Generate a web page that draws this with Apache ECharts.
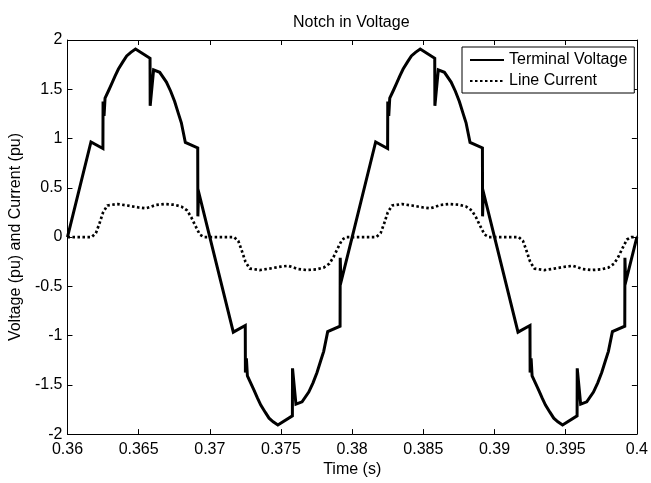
<!DOCTYPE html>
<html>
<head>
<meta charset="utf-8">
<script src="https://cdn.jsdelivr.net/npm/echarts@6.0.0/dist/echarts.min.js"></script>
<style>
html, body { margin: 0; padding: 0; background: #fff; }
#chart { width: 651px; height: 483px; }
</style>
</head>
<body>
<div id="chart"></div>
<script>
// terminal voltage (pu)
var voltageT = [
  0.36000, 0.36165, 0.36249, 0.36250, 0.36257, 0.36264, 0.36290, 0.36311, 0.36335, 0.36358, 0.36390, 0.36416, 0.36445,
  0.36478, 0.36580, 0.36581, 0.36605, 0.36648, 0.36695, 0.36725, 0.36753, 0.36780, 0.36800, 0.36828,
  0.36915, 0.36916, 0.36921, 0.37000,
  0.37165, 0.37249, 0.37250, 0.37257, 0.37264, 0.37290, 0.37311, 0.37335, 0.37358, 0.37390, 0.37416, 0.37445,
  0.37478, 0.37580, 0.37581, 0.37605, 0.37648, 0.37695, 0.37725, 0.37753, 0.37780, 0.37800, 0.37828,
  0.37915, 0.37916, 0.37921, 0.38000,
  0.38165, 0.38249, 0.38250, 0.38257, 0.38264, 0.38290, 0.38311, 0.38335, 0.38358, 0.38390, 0.38416, 0.38445,
  0.38478, 0.38580, 0.38581, 0.38605, 0.38648, 0.38695, 0.38725, 0.38753, 0.38780, 0.38800, 0.38828,
  0.38915, 0.38916, 0.38921, 0.39000,
  0.39165, 0.39249, 0.39250, 0.39257, 0.39264, 0.39290, 0.39311, 0.39335, 0.39358, 0.39390, 0.39416, 0.39445,
  0.39478, 0.39580, 0.39581, 0.39605, 0.39648, 0.39695, 0.39725, 0.39753, 0.39780, 0.39800, 0.39828,
  0.39915, 0.39916, 0.39921, 0.40000
];
var voltageV = [
  0, 0.965, 0.898, 1.375, 1.23, 1.41, 1.49, 1.556, 1.635, 1.705, 1.78, 1.838, 1.875,
  1.908, 1.815, 1.332, 1.696, 1.672, 1.573, 1.48, 1.375, 1.25, 1.16, 0.96,
  0.905, 0.21, 0.46, 0,
  -0.965, -0.898, -1.375, -1.23, -1.41, -1.49, -1.556, -1.635, -1.705, -1.78, -1.838, -1.875,
  -1.908, -1.815, -1.332, -1.696, -1.672, -1.573, -1.48, -1.375, -1.25, -1.16, -0.96,
  -0.905, -0.21, -0.46, 0,
  0.965, 0.898, 1.375, 1.23, 1.41, 1.49, 1.556, 1.635, 1.705, 1.78, 1.838, 1.875,
  1.908, 1.815, 1.332, 1.696, 1.672, 1.573, 1.48, 1.375, 1.25, 1.16, 0.96,
  0.905, 0.21, 0.46, 0,
  -0.965, -0.898, -1.375, -1.23, -1.41, -1.49, -1.556, -1.635, -1.705, -1.78, -1.838, -1.875,
  -1.908, -1.815, -1.332, -1.696, -1.672, -1.573, -1.48, -1.375, -1.25, -1.16, -0.96,
  -0.905, -0.21, -0.46, 0
];

// line current (pu)
var currentT = [
  0.36000, 0.36170, 0.36200, 0.36225, 0.36250, 0.36280, 0.36350, 0.36420, 0.36500, 0.36550,
  0.36580, 0.36620, 0.36680, 0.36750, 0.36800, 0.36840, 0.36870, 0.36900, 0.36930, 0.36960,
  0.37170, 0.37200, 0.37225, 0.37250, 0.37280, 0.37350, 0.37420, 0.37500, 0.37550,
  0.37580, 0.37620, 0.37680, 0.37750, 0.37800, 0.37840, 0.37870, 0.37900, 0.37930, 0.37960,
  0.38170, 0.38200, 0.38225, 0.38250, 0.38280, 0.38350, 0.38420, 0.38500, 0.38550,
  0.38580, 0.38620, 0.38680, 0.38750, 0.38800, 0.38840, 0.38870, 0.38900, 0.38930, 0.38960,
  0.39170, 0.39200, 0.39225, 0.39250, 0.39280, 0.39350, 0.39420, 0.39500, 0.39550,
  0.39580, 0.39620, 0.39680, 0.39750, 0.39800, 0.39840, 0.39870, 0.39900, 0.39930, 0.39960,
  0.40000
];
var currentI = [
  0, 0, 0.04, 0.14, 0.25, 0.32, 0.335, 0.32, 0.30, 0.292,
  0.305, 0.325, 0.335, 0.328, 0.31, 0.27, 0.20, 0.11, 0.025, 0,
  0, -0.04, -0.14, -0.25, -0.32, -0.335, -0.32, -0.30, -0.292,
  -0.305, -0.325, -0.335, -0.328, -0.31, -0.27, -0.20, -0.11, -0.025, 0,
  0, 0.04, 0.14, 0.25, 0.32, 0.335, 0.32, 0.30, 0.292,
  0.305, 0.325, 0.335, 0.328, 0.31, 0.27, 0.20, 0.11, 0.025, 0,
  0, -0.04, -0.14, -0.25, -0.32, -0.335, -0.32, -0.30, -0.292,
  -0.305, -0.325, -0.335, -0.328, -0.31, -0.27, -0.20, -0.11, -0.025, 0,
  0
];

var xRange = [0.36, 0.4];
var xStep = 0.005;
var yRange = [-2, 2];
var yStep = 0.5;

function pairs(xs, ys) {
  var out = [];
  for (var i = 0; i < xs.length; i++) out.push([xs[i], ys[i]]);
  return out;
}

var font = "'Liberation Sans', Arial, sans-serif";

function xAxisOf(pos, labels) {
  return {
    type: 'value', position: pos,
    min: xRange[0], max: xRange[1], interval: xStep,
    axisLine: { show: true, onZero: false, lineStyle: { color: '#000', width: 1 } },
    axisTick: { show: true, inside: true, length: 5, lineStyle: { color: '#000' } },
    splitLine: { show: false },
    axisLabel: {
      show: labels, color: '#000', fontSize: 16, fontFamily: font, margin: 7,
      formatter: function (v) { return String(+v.toFixed(3)); }
    }
  };
}
function yAxisOf(pos, labels) {
  return {
    type: 'value', position: pos,
    min: yRange[0], max: yRange[1], interval: yStep,
    axisLine: { show: true, onZero: false, lineStyle: { color: '#000', width: 1 } },
    axisTick: { show: true, inside: true, length: 5, lineStyle: { color: '#000' } },
    splitLine: { show: false },
    axisLabel: { show: labels, color: '#000', fontSize: 16, fontFamily: font, margin: 5 }
  };
}

var chart = echarts.init(document.getElementById('chart'), null, { renderer: 'canvas' });

var xBottom = xAxisOf('bottom', true);
xBottom.name = 'Time (s)';
xBottom.nameLocation = 'middle';
xBottom.nameGap = 17;
xBottom.nameTextStyle = { color: '#000', fontSize: 16, fontFamily: font };

var yLeft = yAxisOf('left', true);
yLeft.name = 'Voltage (pu) and Current (pu)';
yLeft.nameLocation = 'middle';
yLeft.nameGap = 35;
yLeft.nameTextStyle = { color: '#000', fontSize: 16, fontFamily: font };

chart.setOption({
  animation: false,
  backgroundColor: '#fff',
  title: {
    text: 'Notch in Voltage',
    left: 293, top: 15, padding: 0,
    textStyle: { color: '#000', fontSize: 16, fontWeight: 'normal', fontFamily: font }
  },
  legend: {
    orient: 'vertical',
    left: 462, top: 47,
    padding: [5, 7, 4, 7],
    itemGap: 5,
    itemWidth: 34, itemHeight: 16,
    backgroundColor: '#fff',
    borderColor: '#000', borderWidth: 1, borderRadius: 0,
    // hide the marker circle, keep only the line sample
    itemStyle: { color: 'rgba(0,0,0,0)', borderWidth: 0, opacity: 0 },
    textStyle: { color: '#000', fontSize: 16, fontFamily: font },
    data: ['Terminal Voltage', 'Line Current']
  },
  grid: { left: 67, right: 10, top: 40, bottom: 40, containLabel: false },
  xAxis: [xBottom, xAxisOf('top', false)],
  yAxis: [yLeft, yAxisOf('right', false)],
  series: [
    {
      name: 'Terminal Voltage', type: 'line',
      data: pairs(voltageT, voltageV),
      symbol: 'none', showSymbol: false,
      lineStyle: { color: '#000', width: 3, join: 'miter' },
      itemStyle: { color: '#000' }
    },
    {
      name: 'Line Current', type: 'line',
      data: pairs(currentT, currentI),
      symbol: 'none', showSymbol: false,
      lineStyle: { color: '#000', width: 2.7, type: [2.5, 2.5], cap: 'butt' },
      itemStyle: { color: '#000' }
    }
  ]
});
</script>
</body>
</html>
